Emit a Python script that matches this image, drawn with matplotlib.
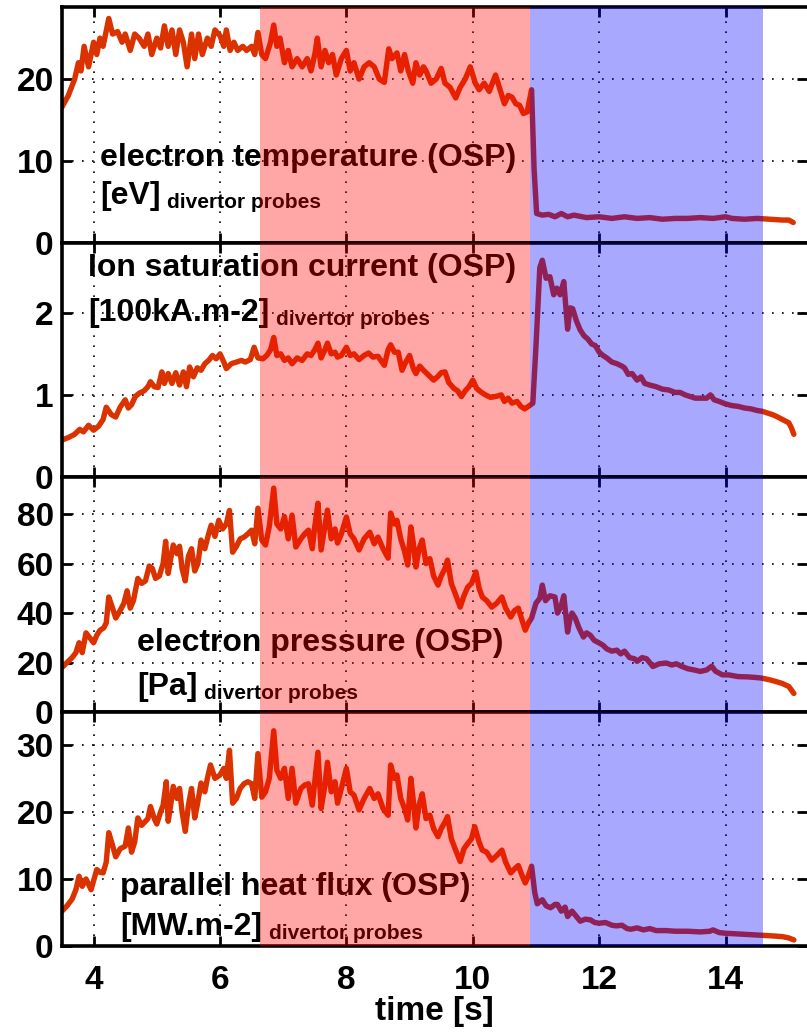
import matplotlib

matplotlib.use("Agg")
import matplotlib.pyplot as plt

plt.rcParams["font.family"] = ["Liberation Sans", "DejaVu Sans"]
plt.rcParams["font.weight"] = "bold"

# electron temperature [eV]
te_t = [3.50, 3.60, 3.70, 3.76, 3.80, 3.85, 3.92, 4.00, 4.05, 4.10, 4.15, 4.24, 4.30, 4.38, 4.45, 4.50,
        4.58, 4.65, 4.72, 4.80, 4.86, 4.92, 5.00, 5.06, 5.12, 5.18, 5.24, 5.30, 5.36, 5.42, 5.48, 5.55,
        5.60, 5.66, 5.72, 5.80, 5.86, 5.92, 6.00, 6.06, 6.10, 6.16, 6.22, 6.28, 6.36, 6.42, 6.50, 6.55,
        6.60, 6.66, 6.72, 6.80, 6.85, 6.90, 6.95, 7.02, 7.08, 7.14, 7.22, 7.30, 7.38, 7.44, 7.50, 7.54,
        7.60, 7.66, 7.72, 7.78, 7.84, 7.92, 8.00, 8.06, 8.12, 8.20, 8.28, 8.36, 8.44, 8.52, 8.60, 8.67,
        8.72, 8.80, 8.86, 8.92, 8.98, 9.05, 9.10, 9.16, 9.22, 9.26, 9.34, 9.42, 9.50, 9.56, 9.64, 9.73,
        9.80, 9.88, 9.96, 10.04, 10.10, 10.18, 10.26, 10.36, 10.44, 10.50, 10.56, 10.62, 10.68, 10.74,
        10.80, 10.86, 10.93, 10.97, 11.01, 11.10, 11.20, 11.30, 11.40, 11.50, 11.60, 11.80, 12.00,
        12.20, 12.40, 12.60, 12.80, 13.00, 13.20, 13.40, 13.60, 13.80, 14.00, 14.10, 14.30, 14.50,
        14.70, 14.90, 15.00, 15.07]
te_v = [16.6, 18.0, 20.0, 22.0, 21.0, 24.0, 21.5, 24.5, 23.0, 25.0, 24.0, 27.4, 25.5, 25.8, 24.5, 25.5,
        23.5, 25.5, 25.0, 24.0, 25.5, 23.0, 25.0, 23.8, 26.5, 24.0, 26.0, 23.0, 26.0, 24.5, 21.5, 25.5,
        22.5, 25.5, 23.0, 25.0, 24.0, 26.0, 25.3, 24.0, 26.0, 23.5, 24.5, 23.5, 24.0, 23.5, 24.0, 23.0,
        25.7, 23.0, 22.5, 24.5, 26.6, 24.0, 25.0, 22.0, 23.5, 21.5, 22.5, 21.5, 22.5, 21.0, 23.0, 25.0,
        21.5, 23.5, 22.0, 23.0, 20.5, 22.5, 23.5, 21.0, 22.0, 20.0, 21.5, 22.0, 21.5, 20.0, 19.6, 23.7,
        22.5, 23.2, 21.0, 23.0, 21.0, 19.5, 22.0, 20.5, 21.5, 21.0, 19.5, 20.0, 21.3, 19.5, 19.0, 17.7,
        19.0, 20.0, 21.5, 19.5, 18.7, 19.5, 18.5, 20.5, 18.5, 17.0, 18.0, 17.8, 17.0, 16.8,
        15.8, 16.0, 18.7, 9.0, 3.6, 3.4, 3.5, 3.2, 3.6, 3.2, 3.4, 3.1, 3.2,
        3.0, 3.2, 3.0, 3.1, 2.9, 3.0, 3.0, 3.1, 3.0, 3.2, 3.0, 2.9, 3.0,
        2.9, 2.8, 2.8, 2.5]

# ion saturation current [100 kA/m2]
js_t = [3.50, 3.60, 3.70, 3.78, 3.84, 3.92, 4.00, 4.08, 4.15, 4.20, 4.28, 4.35, 4.42, 4.50, 4.55, 4.60,
        4.66, 4.72, 4.80, 4.86, 4.90, 4.96, 5.02, 5.08, 5.12, 5.18, 5.24, 5.30, 5.36, 5.42, 5.47, 5.52,
        5.58, 5.64, 5.70, 5.76, 5.82, 5.88, 5.94, 6.00, 6.06, 6.10, 6.18, 6.26, 6.34, 6.40, 6.48, 6.54,
        6.60, 6.68, 6.74, 6.80, 6.85, 6.90, 6.96, 7.02, 7.08, 7.14, 7.22, 7.30, 7.38, 7.44, 7.50, 7.55,
        7.60, 7.66, 7.70, 7.76, 7.82, 7.86, 7.92, 8.00, 8.06, 8.12, 8.20, 8.28, 8.35, 8.42, 8.50, 8.60,
        8.66, 8.70, 8.76, 8.82, 8.88, 8.94, 9.00, 9.06, 9.10, 9.16, 9.22, 9.30, 9.38, 9.44, 9.50, 9.56,
        9.62, 9.70, 9.76, 9.82, 9.88, 9.94, 10.00, 10.06, 10.12, 10.20, 10.28, 10.36, 10.45, 10.50,
        10.56, 10.62, 10.70, 10.76, 10.82, 10.88, 10.95, 11.00, 11.06, 11.10, 11.16, 11.22, 11.28,
        11.33, 11.38, 11.44, 11.50, 11.54, 11.58, 11.64, 11.70, 11.76, 11.82, 11.88, 11.94, 12.00,
        12.06, 12.12, 12.20, 12.28, 12.36, 12.40, 12.46, 12.52, 12.60, 12.66, 12.72, 12.80, 12.90,
        13.00, 13.10, 13.20, 13.28, 13.36, 13.44, 13.52, 13.60, 13.70, 13.76, 13.82, 13.90, 14.00,
        14.10, 14.20, 14.30, 14.40, 14.50, 14.58, 14.66, 14.74, 14.80, 14.90, 15.00, 15.04, 15.08]
js_v = [0.45, 0.48, 0.52, 0.58, 0.55, 0.63, 0.57, 0.62, 0.70, 0.85, 0.76, 0.73, 0.85, 0.94, 0.84, 0.88,
        0.98, 1.02, 1.05, 1.10, 1.16, 1.10, 1.09, 1.28, 1.14, 1.26, 1.14, 1.27, 1.12, 1.28, 1.10, 1.34,
        1.22, 1.33, 1.30, 1.38, 1.42, 1.48, 1.44, 1.50, 1.40, 1.32, 1.38, 1.40, 1.42, 1.40, 1.43, 1.58,
        1.45, 1.44, 1.48, 1.55, 1.70, 1.48, 1.50, 1.42, 1.45, 1.38, 1.45, 1.42, 1.50, 1.48, 1.55, 1.63,
        1.45, 1.55, 1.63, 1.50, 1.52, 1.46, 1.48, 1.58, 1.48, 1.50, 1.43, 1.48, 1.51, 1.46, 1.47, 1.36,
        1.55, 1.61, 1.52, 1.52, 1.30, 1.40, 1.48, 1.32, 1.26, 1.35, 1.30, 1.24, 1.18, 1.22, 1.27, 1.28,
        1.15, 1.08, 1.05, 0.98, 1.05, 1.10, 1.18, 1.08, 1.04, 1.00, 0.97, 0.98, 1.00, 0.92,
        0.96, 0.90, 0.92, 0.86, 0.83, 0.86, 0.90, 1.60, 2.55, 2.64, 2.42, 2.44, 2.22,
        2.30, 2.22, 2.38, 1.80, 2.06, 2.05, 1.90, 1.79, 1.72, 1.68, 1.62, 1.60, 1.52,
        1.48, 1.45, 1.40, 1.38, 1.35, 1.33, 1.25, 1.26, 1.18, 1.22, 1.14, 1.12, 1.10,
        1.07, 1.06, 1.03, 1.03, 1.00, 0.98, 0.96, 0.96, 0.96, 1.00, 0.94, 0.92, 0.89,
        0.87, 0.86, 0.84, 0.83, 0.81, 0.80, 0.78, 0.76, 0.74, 0.70, 0.66, 0.60, 0.52]

# electron pressure [Pa]
pe_t = [3.50, 3.58, 3.66, 3.72, 3.77, 3.82, 3.88, 3.94, 4.00, 4.05, 4.10, 4.16, 4.20, 4.24, 4.30, 4.35,
        4.42, 4.48, 4.53, 4.58, 4.63, 4.70, 4.76, 4.82, 4.88, 4.93, 4.98, 5.04, 5.10, 5.14, 5.18, 5.22,
        5.26, 5.32, 5.36, 5.40, 5.45, 5.50, 5.55, 5.60, 5.65, 5.70, 5.76, 5.82, 5.86, 5.92, 5.98, 6.04,
        6.10, 6.15, 6.20, 6.26, 6.32, 6.38, 6.44, 6.50, 6.55, 6.60, 6.66, 6.72, 6.78, 6.85, 6.90, 6.96,
        7.02, 7.08, 7.14, 7.20, 7.28, 7.34, 7.40, 7.46, 7.50, 7.55, 7.60, 7.66, 7.70, 7.76, 7.82, 7.86,
        7.92, 8.00, 8.06, 8.12, 8.20, 8.28, 8.37, 8.44, 8.50, 8.58, 8.66, 8.70, 8.76, 8.80, 8.86, 8.92,
        8.97, 9.02, 9.06, 9.10, 9.15, 9.20, 9.26, 9.32, 9.38, 9.45, 9.50, 9.56, 9.60, 9.66, 9.72, 9.80,
        9.86, 9.92, 9.98, 10.05, 10.10, 10.15, 10.22, 10.30, 10.38, 10.46, 10.52, 10.60, 10.66, 10.72,
        10.78, 10.83, 10.88, 10.93, 11.00, 11.06, 11.10, 11.15, 11.22, 11.30, 11.34, 11.40, 11.44,
        11.50, 11.54, 11.57, 11.62, 11.68, 11.75, 11.80, 11.86, 11.92, 12.00, 12.06, 12.12, 12.20,
        12.28, 12.34, 12.40, 12.48, 12.56, 12.60, 12.68, 12.75, 12.85, 12.95, 13.06, 13.15, 13.22,
        13.30, 13.40, 13.50, 13.60, 13.70, 13.78, 13.84, 13.95, 14.05, 14.20, 14.35, 14.50, 14.57,
        14.70, 14.80, 14.90, 15.00, 15.08]
pe_v = [18, 20, 22, 24, 28, 24, 32, 30, 28, 31, 33, 34, 36, 46.5, 42, 38,
        41, 44, 49, 42, 45, 54, 52, 53, 59, 58, 54, 55, 60, 69, 56, 62,
        67.5, 64, 67, 58, 53, 63, 66, 57, 60, 69.5, 66, 72, 75.5, 71, 77.5, 74,
        76, 81.5, 64.6, 67, 70, 70.7, 72, 73.5, 68, 82.4, 69.5, 67.5, 75, 90.5, 76, 74,
        79, 70, 79.6, 66.7, 70, 72, 73.5, 66, 75, 84.4, 65.5, 75, 81.6, 70, 74, 68.3,
        72, 78.8, 72, 70, 65.5, 70, 72.7, 68, 70.7, 66, 62.2, 80.4, 76, 77.5, 70, 65,
        59.4, 74.8, 68, 58.6, 66, 69.5, 60, 62, 55, 51.3, 55, 58, 61.4, 52, 48, 42.4,
        47, 50.5, 52, 56.6, 50, 46.5, 45, 42.4, 44, 46.5, 42, 38.4, 41, 42,
        37, 33.1, 36, 38, 44, 46, 51.3, 45, 47, 46.5, 40, 43, 47,
        32.3, 38, 40, 38, 34, 30.3, 32, 31, 29, 27.9, 27, 25.5, 24.6,
        25, 23.5, 24.6, 22, 21.5, 20.5, 22, 21.5, 18.4, 19.5, 19.8, 19, 19.5,
        18.5, 17.5, 17, 16.4, 17, 18.5, 16.5, 15, 15, 14.3, 14.2, 13.9, 13.7,
        13, 12.3, 11.5, 10.3, 7.5]

# parallel heat flux [MW/m2]
qp_t = [3.50, 3.58, 3.66, 3.72, 3.77, 3.82, 3.88, 3.96, 4.05, 4.10, 4.15, 4.20, 4.24, 4.30, 4.35, 4.42,
        4.50, 4.55, 4.60, 4.65, 4.70, 4.76, 4.80, 4.86, 4.90, 4.96, 5.00, 5.06, 5.10, 5.15, 5.18, 5.22,
        5.26, 5.32, 5.36, 5.40, 5.45, 5.50, 5.55, 5.60, 5.64, 5.70, 5.76, 5.80, 5.85, 5.92, 6.00, 6.06,
        6.10, 6.15, 6.20, 6.26, 6.32, 6.38, 6.44, 6.50, 6.55, 6.60, 6.66, 6.72, 6.78, 6.85, 6.90, 6.96,
        7.02, 7.08, 7.14, 7.20, 7.28, 7.34, 7.40, 7.46, 7.50, 7.55, 7.60, 7.66, 7.70, 7.76, 7.82, 7.86,
        7.92, 8.00, 8.06, 8.12, 8.20, 8.28, 8.37, 8.44, 8.50, 8.58, 8.66, 8.70, 8.76, 8.80, 8.86, 8.92,
        8.97, 9.02, 9.06, 9.10, 9.15, 9.20, 9.26, 9.32, 9.38, 9.45, 9.50, 9.56, 9.60, 9.66, 9.72, 9.80,
        9.86, 9.92, 9.98, 10.03, 10.10, 10.15, 10.22, 10.30, 10.38, 10.46, 10.52, 10.60, 10.66, 10.72,
        10.78, 10.83, 10.88, 10.93, 10.98, 11.02, 11.10, 11.16, 11.23, 11.30, 11.34, 11.40, 11.46,
        11.50, 11.57, 11.64, 11.70, 11.78, 11.86, 11.93, 12.00, 12.10, 12.20, 12.27, 12.36, 12.44,
        12.50, 12.60, 12.70, 12.80, 12.90, 13.06, 13.20, 13.40, 13.60, 13.75, 13.80, 13.90, 14.00,
        14.20, 14.40, 14.57, 14.75, 14.90, 15.00, 15.08]
qp_v = [5.2, 6.0, 7.0, 8.4, 10.4, 8.9, 10.0, 8.4, 11.4, 11.0, 10.9, 12.5, 16.9, 15.0, 13.3, 14.5,
        14.9, 17.6, 14.0, 15.5, 19.1, 18.0, 18.4, 19.0, 20.8, 19.0, 18.2, 20.0, 21.0, 24.5, 18.6, 21.0,
        23.8, 22.0, 23.5, 20.0, 17.1, 21.0, 23.5, 19.1, 21.0, 24.3, 23.0, 25.0, 27.0, 25.0, 25.5, 26.5,
        25.0, 29.2, 21.3, 22.0, 23.5, 24.2, 24.5, 24.2, 22.0, 28.7, 22.2, 23.0, 25.0, 32.1, 26.2, 25.0,
        26.5, 22.0, 26.5, 21.3, 23.5, 24.0, 24.2, 21.0, 24.5, 28.9, 20.5, 24.0, 27.4, 23.0, 24.5, 21.3,
        23.5, 26.5, 23.0, 22.5, 20.3, 22.0, 23.5, 22.0, 22.7, 20.5, 19.5, 27.0, 25.0, 25.5, 22.0, 20.5,
        18.8, 25.0, 21.5, 17.6, 21.0, 22.7, 19.0, 19.5, 17.5, 16.3, 17.5, 18.5, 19.3, 16.0, 14.5, 12.6,
        14.5, 15.3, 16.0, 17.8, 15.5, 14.3, 14.0, 12.8, 13.5, 14.3, 12.5, 10.9, 11.5, 12.0,
        10.5, 9.4, 10.5, 11.9, 8.0, 6.3, 6.9, 6.0, 5.7, 6.2, 6.2, 5.2, 5.8,
        4.4, 5.2, 4.4, 3.7, 4.0, 3.9, 3.5, 3.4, 3.5, 3.1, 3.0, 3.1, 2.6,
        2.5, 2.7, 2.4, 2.6, 2.3, 2.3, 2.2, 2.2, 2.1, 2.2, 2.4, 2.0, 1.9,
        1.8, 1.7, 1.6, 1.5, 1.4, 1.2, 0.9]

series_t = [te_t, js_t, pe_t, qp_t]
series_v = [te_v, js_v, pe_v, qp_v]
y_tops = [28.8, 2.85, 95.0, 34.9]
y_ticks = [[0, 10, 20], [0, 1, 2], [0, 20, 40, 60, 80], [0, 10, 20, 30]]
titles = ["electron temperature (OSP)", "Ion saturation current (OSP)",
          "electron pressure (OSP)", "parallel heat flux (OSP)"]
units = ["[eV]", "[100kA.m-2]", "[Pa]", "[MW.m-2]"]
x_ticks = [4, 6, 8, 10, 12, 14]
red_phase = (6.64, 10.9)
blue_phase = (10.9, 14.59)

W, H = 807, 1033
fig = plt.figure(figsize=(W / 100, H / 100), dpi=100)

# panel edges in pixels (top, bottom) and label anchors (x, line1 y, line2 y)
panel_px = [(7, 243), (243, 477), (477, 712), (712, 946)]
label_px = [(100, 158, 196), (88, 268, 313), (137, 643, 687), (120, 887, 927)]
left_px, right_px = 62, 807

line_color = (0.86, 0.2, 0.0)

for i, (top, bot) in enumerate(panel_px):
    ax = fig.add_axes([left_px / W, 1 - bot / H, (right_px - left_px) / W, (bot - top) / H])
    ax.plot(series_t[i], series_v[i], color=line_color, lw=3.9, zorder=2,
            solid_joinstyle="round", solid_capstyle="round")
    ax.axvspan(*red_phase, color=(1, 0, 0), alpha=0.35, lw=0, zorder=5)
    ax.axvspan(*blue_phase, color=(0, 0, 1), alpha=0.34, lw=0, zorder=5)
    ax.set_xlim(3.5, 3.5 + (right_px - left_px) / 63.2)
    ax.set_ylim(0, y_tops[i])
    ax.set_yticks(y_ticks[i])
    ax.set_xticks(x_ticks)
    ax.grid(True, color="black", linestyle=(0, (1, 5)), lw=1.2)
    ax.tick_params(direction="in", length=7, width=2, top=True, right=True,
                   labelsize=24, pad=6)
    ax.tick_params(axis="x", pad=14)
    for side in ["left", "top", "bottom"]:
        ax.spines[side].set_linewidth(2.6)
    ax.spines["right"].set_visible(False)
    if i < 3:
        ax.tick_params(axis="x", labelbottom=False)
    else:
        ax.set_xlabel("time [s]", fontsize=24, fontweight="bold", labelpad=0)

    lx, ly1, ly2 = label_px[i]
    fx = (lx - left_px) / (right_px - left_px)
    ax.text(fx, (bot - ly1) / (bot - top), titles[i], transform=ax.transAxes,
            fontsize=23, fontweight="bold", va="center", ha="left", zorder=3)
    unit = ax.text(fx, (bot - ly2) / (bot - top), units[i], transform=ax.transAxes,
                   fontsize=23, fontweight="bold", va="center", ha="left", zorder=3)
    ax.annotate("divertor probes", xy=(1, 0.1), xycoords=unit, xytext=(5, 0),
                textcoords="offset points", fontsize=15, fontweight="bold",
                va="baseline", ha="left", zorder=3)

fig.savefig("out.png", dpi=100)
